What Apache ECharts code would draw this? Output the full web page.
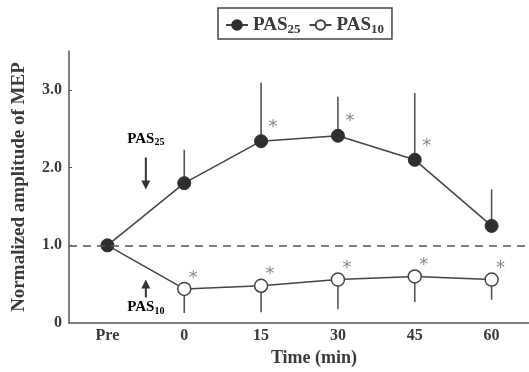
<!DOCTYPE html>
<html><head><meta charset="utf-8">
<script src="https://cdn.jsdelivr.net/npm/echarts@6/dist/echarts.min.js"></script>
<style>html,body{margin:0;padding:0;background:#fff}#c{width:529px;height:372px}</style>
</head><body><div id="c"></div>
<script>
// Data
var times = [-15, 0, 15, 30, 45, 60];
var timeLabels = ['Pre', '0', '15', '30', '45', '60'];
var pas25 = [1.0, 1.80, 2.34, 2.41, 2.10, 1.25];
var pas25Upper = [null, 2.23, 3.09, 2.91, 2.96, 1.72];
var pas25Sig = [false, false, true, true, true, false];
var pas10 = [1.0, 0.44, 0.48, 0.56, 0.60, 0.56];
var pas10Lower = [null, 0.13, 0.14, 0.18, 0.27, 0.30];
var pas10Sig = [false, true, true, true, true, true];
var yTicks = [0, 1, 2, 3];
var yTickLabels = ['0', '1.0', '2.0', '3.0'];

var FONT = '"Liberation Serif", "DejaVu Serif", serif';
var INK = '#3a3a3a';

function pairs(vals) { return times.map(function (t, i) { return [t, vals[i]]; }); }
function errData(vals, ends) {
  var d = [];
  times.forEach(function (t, i) { if (ends[i] != null) d.push([t, vals[i], ends[i]]); });
  return d;
}
function errRender(params, api) {
  var p1 = api.coord([api.value(0), api.value(1)]);
  var p2 = api.coord([api.value(0), api.value(2)]);
  return { type: 'line', shape: { x1: p1[0], y1: p1[1], x2: p2[0], y2: p2[1] },
    style: { stroke: '#555', lineWidth: 1.6 } };
}
var rich = {
  b: { fontFamily: FONT, fontWeight: 'bold', fontSize: 19, color: INK, lineHeight: 22 },
  s: { fontFamily: FONT, fontWeight: 'bold', fontSize: 13, color: INK, lineHeight: 22, verticalAlign: 'bottom', padding: [12, 0, 0, 0] }
};

var chart = echarts.init(document.getElementById('c'));
var option = {
  animation: false,
  grid: { left: 69, right: 0, top: 51, bottom: 48 },
  legend: {
    left: 218, top: 8,
    data: ['PAS25', 'PAS10'],
    borderColor: '#444', borderWidth: 1.5, borderRadius: 0,
    padding: [3, 8, 3, 7], itemGap: 8,
    itemWidth: 22, itemHeight: 12,
    formatter: function (n) { return '{b|PAS}{s|' + n.slice(3) + '}'; },
    textStyle: { rich: rich }
  },
  xAxis: {
    type: 'value', min: -22.5, max: 67.3,
    name: 'Time (min)', nameLocation: 'middle', nameGap: 25,
    nameTextStyle: { fontFamily: FONT, fontWeight: 'bold', fontSize: 18, color: INK, padding: [0, 0, 0, 30] },
    axisLine: { onZero: false, lineStyle: { color: '#555', width: 1.5 } },
    axisTick: { show: false },
    splitLine: { show: false },
    axisLabel: {
      customValues: times,
      formatter: function (v) { var i = times.indexOf(v); return i >= 0 ? timeLabels[i] : ''; },
      fontFamily: FONT, fontWeight: 'bold', fontSize: 16, color: INK, margin: 5
    }
  },
  yAxis: {
    type: 'value', min: 0, max: 3.5,
    name: 'Normalized amplitude of MEP', nameLocation: 'middle', nameGap: 40,
    nameTextStyle: { fontFamily: FONT, fontWeight: 'bold', fontSize: 19, color: INK },
    axisLine: { show: true, onZero: false, lineStyle: { color: '#555', width: 1.5 } },
    axisTick: { show: true, inside: true, length: 3, customValues: [1, 2, 3], lineStyle: { color: '#555' } },
    splitLine: { show: false },
    axisLabel: {
      customValues: yTicks,
      formatter: function (v) { var i = yTicks.indexOf(v); return i >= 0 ? yTickLabels[i] : ''; },
      fontFamily: FONT, fontWeight: 'bold', fontSize: 16, color: INK, margin: 7
    }
  },
  series: [
    { type: 'custom', name: 'err25', renderItem: errRender, data: errData(pas25, pas25Upper), z: 1, silent: true },
    { type: 'custom', name: 'err10', renderItem: errRender, data: errData(pas10, pas10Lower), z: 1, silent: true },
    {
      name: 'PAS10', type: 'line', data: pairs(pas10).map(function (p, i) {
        return i === 0 ? { value: p, symbol: 'none' } : p;
      }),
      symbol: 'circle', symbolSize: 13, z: 3,
      lineStyle: { color: '#444', width: 1.5 },
      itemStyle: { color: '#fff', borderColor: '#444', borderWidth: 1.5 },
      label: {
        show: true, position: 'inside', offset: [9, -11],
        formatter: function (p) { return pas10Sig[p.dataIndex] ? '*' : ''; },
        fontFamily: '"DejaVu Sans", sans-serif', fontSize: 18, color: '#888'
      },
      markLine: {
        silent: true, symbol: 'none', label: { show: false },
        lineStyle: { color: '#555', type: [8, 6], width: 1.5 },
        data: [{ yAxis: 1.0 }]
      }
    },
    {
      name: 'PAS25', type: 'line', data: pairs(pas25),
      symbol: 'circle', symbolSize: 13, z: 4,
      lineStyle: { color: '#444', width: 1.5 },
      itemStyle: { color: '#2e2e2e', borderColor: '#2e2e2e', borderWidth: 1 },
      label: {
        show: true, position: 'inside', offset: [12, -14],
        formatter: function (p) { return pas25Sig[p.dataIndex] ? '*' : ''; },
        fontFamily: '"DejaVu Sans", sans-serif', fontSize: 18, color: '#888'
      }
    }
  ]
};
chart.setOption(option);

// annotations (arrows indicating the two protocols), anchored to axis coordinates
var ax = chart.convertToPixel({ gridIndex: 0 }, [-7.5, 0])[0];
var yTopTxt = chart.convertToPixel({ gridIndex: 0 }, [0, 2.37])[1];
var yDnA = chart.convertToPixel({ gridIndex: 0 }, [0, 2.13])[1];
var yDnB = chart.convertToPixel({ gridIndex: 0 }, [0, 1.72])[1];
var yUpA = chart.convertToPixel({ gridIndex: 0 }, [0, 0.56])[1];
var yUpB = chart.convertToPixel({ gridIndex: 0 }, [0, 0.33])[1];
var yBotTxt = chart.convertToPixel({ gridIndex: 0 }, [0, 0.2])[1];
var rich2 = {
  b: { fontFamily: FONT, fontWeight: 'bold', fontSize: 15, color: INK, lineHeight: 17 },
  s: { fontFamily: FONT, fontWeight: 'bold', fontSize: 10, color: INK, lineHeight: 17, verticalAlign: 'bottom', padding: [9, 0, 0, 0] }
};
function arrow(x, y1, y2) {
  var dir = y2 > y1 ? 1 : -1;
  return [
    { type: 'line', shape: { x1: x, y1: y1, x2: x, y2: y2 - dir * 6 }, style: { stroke: '#333', lineWidth: 2 } },
    { type: 'polygon', shape: { points: [[x - 4.5, y2 - dir * 9], [x + 4.5, y2 - dir * 9], [x, y2]] }, style: { fill: '#333' } }
  ];
}
chart.setOption({
  graphic: [
    { type: 'text', x: ax, y: yTopTxt, style: { text: '{b|PAS}{s|25}', rich: rich2, align: 'center', verticalAlign: 'middle' } },
    { type: 'text', x: ax, y: yBotTxt, style: { text: '{b|PAS}{s|10}', rich: rich2, align: 'center', verticalAlign: 'middle' } }
  ].concat(arrow(ax, yDnA, yDnB)).concat(arrow(ax, yUpB, yUpA))
});
</script></body></html>
